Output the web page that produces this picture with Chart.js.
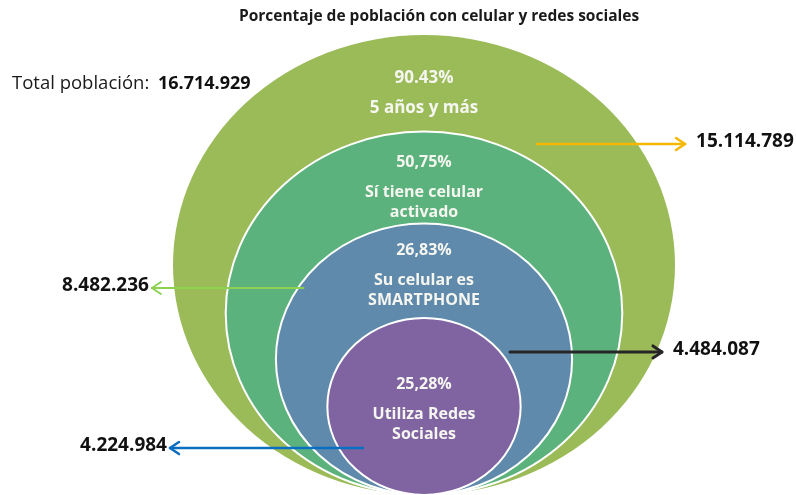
<!DOCTYPE html>
<html>
<head>
<meta charset="utf-8">
<script src="https://cdn.jsdelivr.net/npm/chart.js@4.4.1/dist/chart.umd.min.js"></script>
<style>
	html, body { margin: 0; padding: 0; background: #ffffff; }
	#wrap { width: 796px; height: 495px; position: relative; }
</style>
</head>
<body>
<div id="wrap"><canvas id="nested_chart"></canvas></div>
<script>
// ---------------- DATA ----------------
const chart_title = "Porcentaje de población con celular y redes sociales";
const total_label = "Total población:";
const total_value = "16.714.929";

const groups = ["5 años y más", "Sí tiene celular activado", "Su celular es SMARTPHONE", "Utiliza Redes Sociales"];
const group_lines = [["5 años y más"], ["Sí tiene celular", "activado"], ["Su celular es", "SMARTPHONE"], ["Utiliza Redes", "Sociales"]];
const percentages = ["90.43%", "50,75%", "26,83%", "25,28%"];
const counts = ["15.114.789", "8.482.236", "4.484.087", "4.224.984"];
// relative circle sizes (chart units), all circles touch at the bottom
const circle_size = [100, 79, 59, 38.5];

// ---------------- STYLE / LAYOUT ----------------
const fill_colors = ["#9bbb59", "#5cb27c", "#5f8aab", "#8064a2"];
const border_widths = [0, 2, 2, 2];
const font_family = "'Open Sans', Lato, sans-serif";
const text_color = "#f6f6f0";

// label lines: offset (px) of the percentage line from the top of each circle
const pct_offset = [43, 31, 27, 67];

// arrows in chart units: from, to (tip), y
const arrows = [
	{ from: 45, to: 104, y: 152.6, color: "#f5b700", width: 2.5 },
	{ from: -48, to: -108.4, y: 90, color: "#8cd24f", width: 2 },
	{ from: 34.3, to: 94.8, y: 62.2, color: "#262626", width: 3 },
	{ from: -24.3, to: -101.2, y: 20.4, color: "#0b6fc1", width: 2.5 },
];

let datasets = [];
for (let i = 0; i < groups.length; i++) {
	datasets.push({
		label: groups[i],
		data: [{ x: 0, y: circle_size[i], r: circle_size[i] }],
		backgroundColor: fill_colors[i],
		borderColor: "#ffffff",
		borderWidth: border_widths[i],
		pointRadius: 0,
	});
}

function draw_arrow(ctx, x0, x1, y, color, width) {
	let dir = x1 > x0 ? 1 : -1;
	ctx.save();
	ctx.strokeStyle = color;
	ctx.lineWidth = width;
	ctx.lineCap = "round";
	ctx.lineJoin = "round";
	ctx.beginPath();
	ctx.moveTo(x0, y);
	ctx.lineTo(x1, y);
	ctx.stroke();
	ctx.beginPath();
	ctx.moveTo(x1 - dir * 9, y - 6);
	ctx.lineTo(x1, y);
	ctx.lineTo(x1 - dir * 9, y + 6);
	ctx.stroke();
	ctx.restore();
}

const nested_plugin = {
	id: "nested_plugin",
	beforeDatasetsDraw(chart) {
		const ctx = chart.ctx;
		const x = chart.scales.x;
		const y = chart.scales.y;
		chart.data.datasets.forEach((ds, i) => {
			const pt = chart.getDatasetMeta(i).data[0];
			const r = ds.data[0].r;
			const rx = x.getPixelForValue(r) - x.getPixelForValue(0);
			const ry = y.getPixelForValue(0) - y.getPixelForValue(r);
			ctx.save();
			ctx.beginPath();
			ctx.ellipse(pt.x, pt.y, rx, ry, 0, 0, Math.PI * 2);
			ctx.fillStyle = ds.backgroundColor;
			ctx.fill();
			if (ds.borderWidth > 0) {
				ctx.lineWidth = ds.borderWidth;
				ctx.strokeStyle = ds.borderColor;
				ctx.stroke();
			}
			ctx.restore();
		});
		// circles are drawn here, skip the default points
		return false;
	},
	afterDraw(chart) {
		const ctx = chart.ctx;
		const x = chart.scales.x;
		const y = chart.scales.y;
		ctx.save();
		ctx.textBaseline = "middle";

		// title
		ctx.fillStyle = "#1a1a1a";
		ctx.textAlign = "center";
		ctx.font = `bold 15.5px ${font_family}`;
		ctx.fillText(chart_title, 439, 17);

		// total
		ctx.textAlign = "left";
		ctx.font = `18.5px ${font_family}`;
		ctx.fillText(total_label, 12, 84);
		ctx.font = `bold 18px ${font_family}`;
		ctx.fillStyle = "#111111";
		ctx.fillText(total_value, 158, 84);

		// labels inside circles
		ctx.textAlign = "center";
		ctx.fillStyle = text_color;
		chart.data.datasets.forEach((ds, i) => {
			const pt = chart.getDatasetMeta(i).data[0];
			const top = y.getPixelForValue(ds.data[0].y + ds.data[0].r);
			let ty = top + pct_offset[i];
			let size = i == 0 ? 17 : 16;
			ctx.font = `bold ${size}px ${font_family}`;
			ctx.fillText(percentages[i], pt.x, ty);
			ty += 30;
			group_lines[i].forEach((line) => {
				ctx.fillText(line, pt.x, ty);
				ty += 20;
			});
		});

		// arrows and values
		arrows.forEach((a, i) => {
			const x0 = x.getPixelForValue(a.from);
			const x1 = x.getPixelForValue(a.to);
			const py = y.getPixelForValue(a.y);
			draw_arrow(ctx, x0, x1, py, a.color, a.width);
			ctx.fillStyle = "#111111";
			ctx.font = `bold 19px ${font_family}`;
			if (x1 > x0) {
				ctx.textAlign = "left";
				ctx.fillText(counts[i], x1 + 11, py - 2);
			} else {
				ctx.textAlign = "right";
				ctx.fillText(counts[i], x1 - 3, py - 2);
			}
		});
		ctx.restore();
	},
};

const ctx = document.getElementById("nested_chart").getContext("2d");
const nested_chart = new Chart(ctx, {
	type: "scatter",
	data: { datasets: datasets },
	options: {
		responsive: true,
		maintainAspectRatio: false,
		animation: false,
		events: [],
		layout: { padding: 0 },
		plugins: {
			legend: { display: false },
			tooltip: { enabled: false },
			title: { display: false },
		},
		scales: {
			// 2.51 px per unit across, 2.30 px per unit down
			x: { type: "linear", display: false, min: -424 / 2.51, max: (796 - 424) / 2.51 },
			y: { type: "linear", display: false, min: 0, max: 495 / 2.3 },
		},
	},
	plugins: [nested_plugin],
});
</script>
</body>
</html>
